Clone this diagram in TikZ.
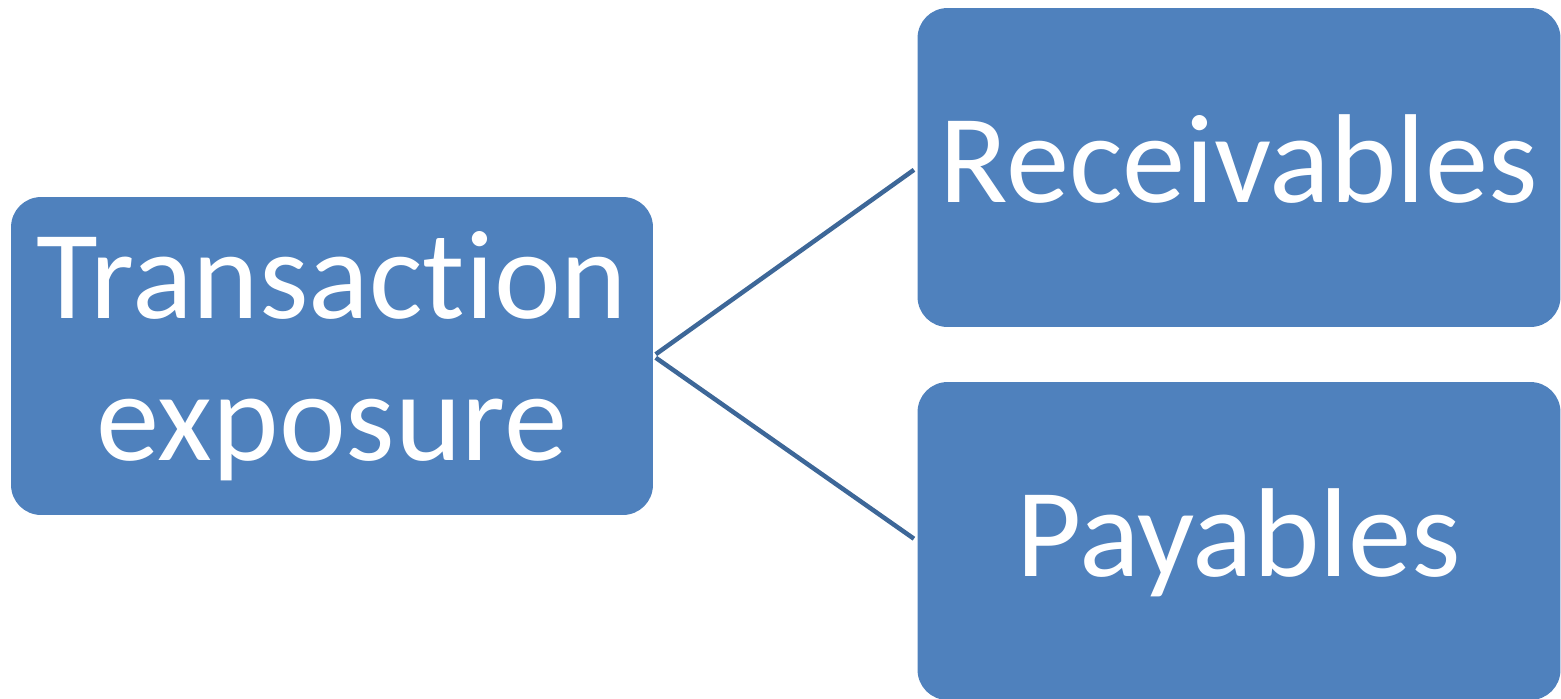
\documentclass[tikz,border=0pt]{standalone}
\usepackage{fontspec}
\setmainfont{Carlito}[RawFeature={-liga;-clig;-dlig}]
\usepackage{tikz}
\definecolor{boxblue}{HTML}{4F81BD}
\definecolor{lineblue}{HTML}{3D6798}
\tikzstyle{block}=[rectangle, rounded corners=0.6cm, fill=boxblue, text=white, align=center, font=\fontsize{72}{81}\selectfont, inner sep=0pt]

\begin{document}
\begin{tikzpicture}[x=0.02cm, y=-0.02cm]
      \useasboundingbox (0,0) rectangle (1561,698);
      \node[block, minimum width=12.84cm, minimum height=6.36cm](exposure) at (332, 356) {Transact\kern0pt ion\\exposure};
      \node[block, minimum width=12.86cm, minimum height=6.38cm, text height=1.9cm, text depth=0.5cm](recv) at (1239, 167.5) {Receivables};
      \node[block, minimum width=12.86cm, minimum height=6.36cm, text height=1.9cm, text depth=0.5cm](pay) at (1239, 541) {Payables};
      \begin{scope}[every path/.style={-, line width=0.09cm, draw=lineblue, shorten <=0.06cm, shorten >=0.08cm}]
        \draw (exposure.east) -- (recv.west);
        \draw (exposure.east) -- (pay.west);
      \end{scope}
    \end{tikzpicture}
\end{document}
